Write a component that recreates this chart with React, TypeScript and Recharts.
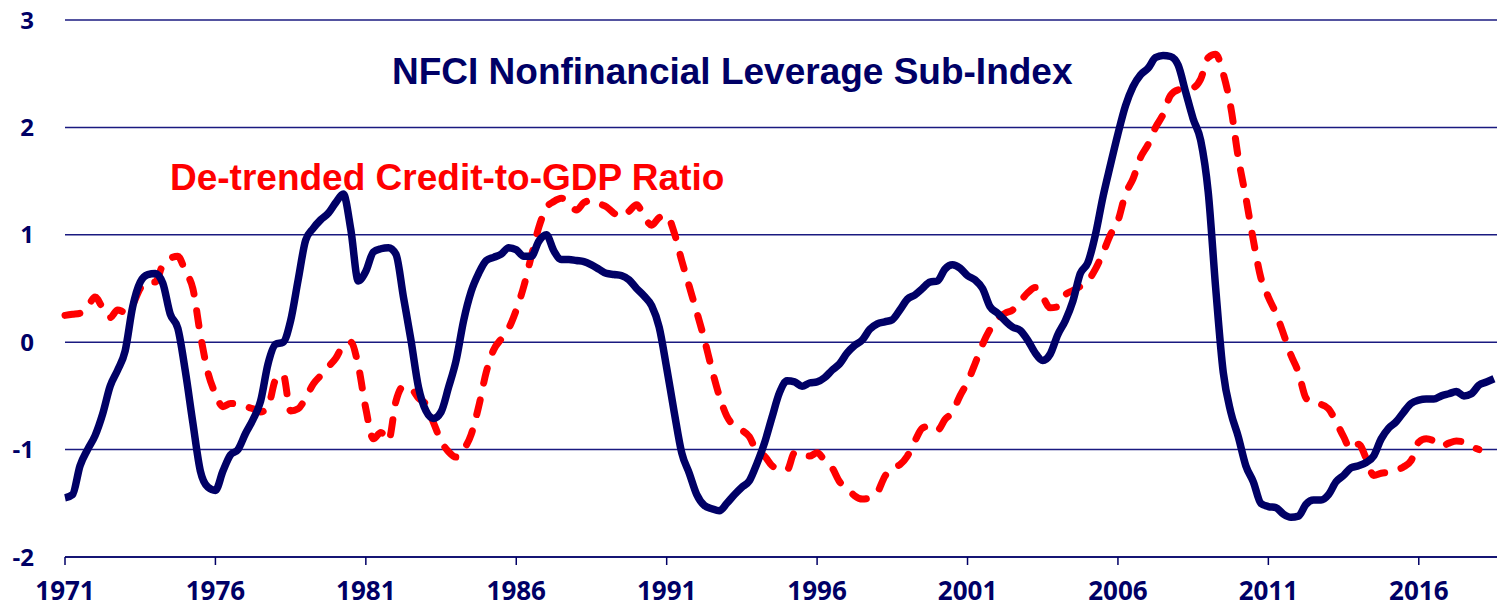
import { CartesianGrid, Line, LineChart, XAxis, YAxis } from "recharts";

// Quarterly observations, first quarter of 1971 onwards
const START_YEAR = 1971;

// NFCI nonfinancial leverage sub-index (navy solid line)
const nfciLeverage = [
  -1.45, -1.42, -1.15, -1.0,
  -0.87, -0.67, -0.41, -0.26,
  -0.08, 0.33, 0.56, 0.63,
  0.64, 0.55, 0.26, 0.13,
  -0.27, -0.75, -1.2, -1.35,
  -1.38, -1.2, -1.05, -1.0,
  -0.85, -0.72, -0.55, -0.2,
  -0.02, 0.0, 0.2, 0.58,
  0.95, 1.06, 1.14, 1.2,
  1.3, 1.38, 1.05, 0.57,
  0.66, 0.84, 0.87, 0.88,
  0.82, 0.42, 0.02, -0.42,
  -0.64, -0.71, -0.65, -0.42,
  -0.17, 0.2, 0.47, 0.64,
  0.76, 0.79, 0.82, 0.88,
  0.86, 0.8, 0.8, 0.94,
  1.0, 0.85, 0.77, 0.77,
  0.76, 0.75, 0.72, 0.68,
  0.64, 0.63, 0.62, 0.58,
  0.5, 0.43, 0.34, 0.14,
  -0.24, -0.65, -1.03, -1.22,
  -1.42, -1.52, -1.55, -1.57,
  -1.5, -1.42, -1.35, -1.29,
  -1.13, -0.94, -0.7, -0.47,
  -0.36, -0.37, -0.41, -0.38,
  -0.37, -0.33, -0.26, -0.2,
  -0.1, -0.03, 0.02, 0.12,
  0.17, 0.19, 0.21, 0.3,
  0.4, 0.44, 0.5, 0.56,
  0.57, 0.68, 0.72, 0.69,
  0.62, 0.58, 0.5, 0.33,
  0.27, 0.2, 0.14, 0.11,
  0.02, -0.1, -0.17, -0.11,
  0.07, 0.2, 0.38, 0.64,
  0.74, 1.0, 1.35, 1.65,
  1.94, 2.2, 2.38, 2.49,
  2.55, 2.65, 2.67, 2.66,
  2.58, 2.33, 2.08, 1.88,
  1.4, 0.5, -0.28, -0.65,
  -0.88, -1.15, -1.3, -1.5,
  -1.53, -1.54, -1.6, -1.63,
  -1.62, -1.51, -1.47, -1.47,
  -1.42, -1.3, -1.24, -1.17,
  -1.15, -1.12, -1.06, -0.9,
  -0.8, -0.74, -0.65, -0.57,
  -0.54, -0.53, -0.53, -0.5,
  -0.48, -0.46, -0.5, -0.48,
  -0.4, -0.37, -0.34,
];

// De-trended credit-to-GDP ratio (red dashed line)
const creditToGdp = [
  0.25, 0.26, 0.27, 0.33,
  0.42, 0.32, 0.23, 0.3,
  0.28, 0.35, 0.5, 0.56,
  0.56, 0.72, 0.78, 0.8,
  0.66, 0.5, 0.07, -0.28,
  -0.48, -0.6, -0.57, -0.58,
  -0.6, -0.62, -0.65, -0.6,
  -0.35, -0.3, -0.64, -0.62,
  -0.52, -0.39, -0.31, -0.23,
  -0.15, -0.03, 0.0, -0.22,
  -0.62, -0.9, -0.84, -0.92,
  -0.55, -0.41, -0.43, -0.52,
  -0.58, -0.75, -0.92, -1.02,
  -1.07, -1.0, -0.86, -0.6,
  -0.28, -0.07, 0.03, 0.13,
  0.3, 0.52, 0.8, 1.07,
  1.25, 1.31, 1.34, 1.3,
  1.23, 1.3, 1.32, 1.29,
  1.26, 1.2, 1.17, 1.22,
  1.28, 1.17, 1.09, 1.16,
  1.18, 1.02, 0.76, 0.52,
  0.28, 0.03, -0.25, -0.5,
  -0.69, -0.78, -0.82, -0.88,
  -1.02, -1.06, -1.15, -1.18,
  -1.19, -1.03, -1.03, -1.06,
  -1.03, -1.1, -1.17, -1.3,
  -1.36, -1.43, -1.46, -1.45,
  -1.4, -1.25, -1.17, -1.14,
  -1.06, -0.92, -0.8, -0.78,
  -0.82, -0.72, -0.65, -0.5,
  -0.37, -0.2, -0.02, 0.12,
  0.22, 0.27, 0.3, 0.38,
  0.46, 0.51, 0.42, 0.32,
  0.33, 0.44, 0.48, 0.52,
  0.57, 0.68, 0.83, 1.0,
  1.13, 1.38, 1.52, 1.72,
  1.84, 2.0, 2.12, 2.3,
  2.35, 2.36, 2.37, 2.45,
  2.65, 2.68, 2.5, 2.19,
  1.72, 1.35, 0.95, 0.6,
  0.42, 0.27, 0.08, -0.12,
  -0.28, -0.52, -0.57, -0.58,
  -0.62, -0.74, -0.88, -1.0,
  -0.95, -1.08, -1.24, -1.22,
  -1.21, -1.19, -1.16, -1.1,
  -0.93, -0.9, -0.92, -0.97,
  -0.94, -0.92, -0.93, -0.97,
  -1.0,
];

const yearTicks = [1971, 1976, 1981, 1986, 1991, 1996, 2001, 2006, 2011, 2016];
const valueTicks = [-2, -1, 0, 1, 2, 3];

const NAVY = "#000066";
const RED = "#ff0000";

const data = nfciLeverage.map((v, i) => ({
  year: START_YEAR + i / 4,
  nfci: v,
  credit: i < creditToGdp.length ? creditToGdp[i] : null,
}));

const tickFont = { fontFamily: "'Open Sans', sans-serif", fontWeight: 700, fill: NAVY };

function App() {
  return (
    <div style={{ position: "relative", width: 1499, height: 610 }}>
      <style>{"body{margin:0}"}</style>
      <LineChart
        width={1499}
        height={610}
        data={data}
        margin={{ top: 20, right: 2, bottom: 0, left: 0 }}
      >
        <CartesianGrid vertical={false} stroke="#1a1a80" strokeWidth={1.5} />
        <XAxis
          dataKey="year"
          type="number"
          domain={[1971, 2018.6]}
          ticks={yearTicks}
          height={53}
          stroke={NAVY}
          strokeWidth={1.5}
          tickSize={8}
          tickMargin={17}
          tick={{ ...tickFont, fontSize: 26 }}
        />
        <YAxis
          type="number"
          domain={[-2, 3]}
          ticks={valueTicks}
          width={65}
          axisLine={false}
          tickLine={false}
          tickSize={0}
          tickMargin={31}
          tick={{ ...tickFont, fontSize: 24 }}
        />
        <Line
          dataKey="credit"
          type="monotone"
          stroke={RED}
          strokeWidth={7}
          strokeDasharray="15 17"
          strokeLinecap="round"
          dot={false}
          isAnimationActive={false}
        />
        <Line
          dataKey="nfci"
          type="monotone"
          stroke={NAVY}
          strokeWidth={7.5}
          dot={false}
          isAnimationActive={false}
        />
      </LineChart>
      <svg
        width={1499}
        height={610}
        style={{ position: "absolute", left: 0, top: 0, pointerEvents: "none" }}
      >
        <text
          x={392}
          y={84}
          fill={NAVY}
          fontSize={37}
          fontWeight={700}
          fontFamily="'Liberation Sans', Arial, sans-serif"
        >
          NFCI Nonfinancial Leverage Sub-Index
        </text>
        <text
          x={170}
          y={190}
          fill={RED}
          fontSize={37}
          fontWeight={700}
          fontFamily="'Liberation Sans', Arial, sans-serif"
        >
          De-trended Credit-to-GDP Ratio
        </text>
      </svg>
    </div>
  );
}

export default App;
